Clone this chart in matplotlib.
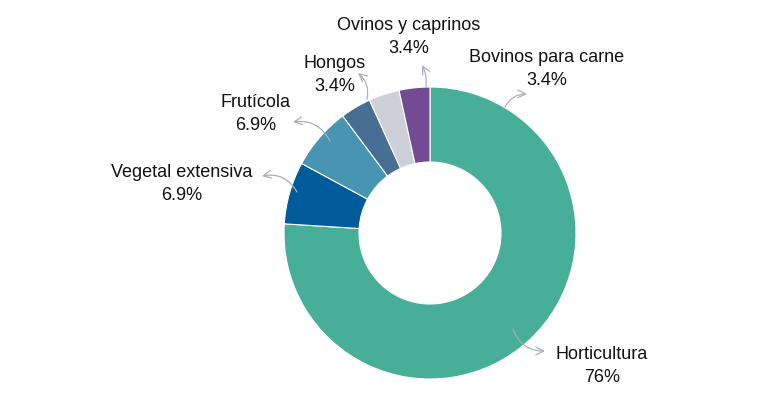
import matplotlib.pyplot as plt

plt.rcParams['font.family'] = ['Liberation Sans', 'DejaVu Sans']

sectores = ["Horticultura", "Vegetal extensiva", "Frutícola", "Hongos",
            "Ovinos y caprinos", "Bovinos para carne"]
valores = [76, 6.9, 6.9, 3.4, 3.4, 3.4]
etiquetas = ["76%", "6.9%", "6.9%", "3.4%", "3.4%", "3.4%"]
colores = ["#47AE97", "#005B9B", "#4895B3", "#466F93", "#CDD0D9", "#734B92"]

# label centres and leader lines (pixel coords, y from top)
pos_texto = [(602, 366), (182, 184), (256, 114), (335, 75), (409, 37), (547, 69)]
flecha_ini = [(513, 330), (297, 193), (330, 142), (367, 100), (426, 88), (505, 108)]
flecha_fin = [(545, 352), (262, 177), (293, 123), (358, 74), (422, 66), (527, 95)]
curvas = [0.35, 0.35, 0.35, 0.3, 0.15, -0.3]

W, H = 768, 402
fig = plt.figure(figsize=(W / 100, H / 100), dpi=100)
ax = fig.add_axes([0, 0, 1, 1])
ax.axis("off")

ax.pie(valores, colors=colores, startangle=90, counterclock=False,
       center=(430, H - 234), radius=146,
       wedgeprops=dict(width=75, edgecolor="white", linewidth=0.8))
ax.set_xlim(0, W)
ax.set_ylim(0, H)
ax.set_aspect("equal")

for s, e, (tx, ty), a, b, c in zip(sectores, etiquetas, pos_texto,
                                   flecha_ini, flecha_fin, curvas):
    ax.text(tx, H - ty, s + "\n" + e, ha="center", va="center",
            fontsize=13, linespacing=1.45, color="#111111")
    ax.annotate("", xy=(b[0], H - b[1]), xytext=(a[0], H - a[1]),
                arrowprops=dict(arrowstyle="->", color="#ABAFB7", lw=0.9,
                                connectionstyle=f"arc3,rad={c}",
                                shrinkA=0, shrinkB=0, mutation_scale=14))

plt.savefig("out.png", dpi=100)
